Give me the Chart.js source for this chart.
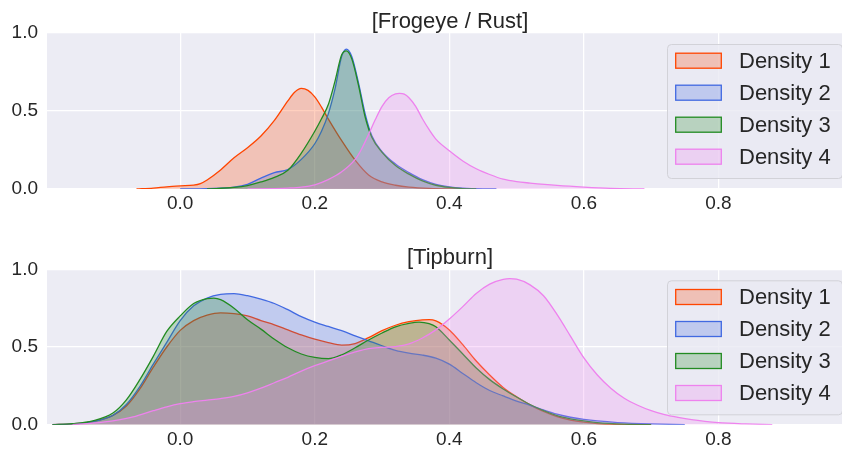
<!DOCTYPE html>
<html>
<head>
<meta charset="utf-8">
<script src="https://cdn.jsdelivr.net/npm/chart.js@4/dist/chart.umd.min.js"></script>
<style>
html,body{margin:0;padding:0;background:#ffffff;overflow:hidden;width:842px;height:452px;}
.wrap{position:absolute;left:0;width:900px;height:226px;}
</style>
</head>
<body>
<div class="wrap" style="top:0px"><canvas id="c1" width="900" height="226"></canvas></div>
<div class="wrap" style="top:226px"><canvas id="c2" width="900" height="226"></canvas></div>
<script>
// ---- data ----
const titles = ['[Frogeye / Rust]', '[Tipburn]'];
const seriesLabels = ['Density 1', 'Density 2', 'Density 3', 'Density 4'];
const xTicks = [0.0, 0.2, 0.4, 0.6, 0.8];
const yTicks = [0.0, 0.5, 1.0];

// Frogeye / Rust
const fr1X = [-0.065,-0.04,-0.02,0,0.02,0.03,0.04,0.06,0.08,0.10,0.12,0.14,0.16,0.17,0.18,0.19,0.20,0.21,0.22,0.24,0.26,0.28,0.30,0.32,0.34,0.37,0.42];
const fr1Y = [0,0.006,0.014,0.02,0.025,0.035,0.058,0.122,0.2,0.265,0.34,0.44,0.565,0.62,0.645,0.632,0.59,0.525,0.45,0.31,0.185,0.09,0.045,0.024,0.012,0.004,0];
const fr2X = [0,0.04,0.08,0.10,0.12,0.14,0.16,0.18,0.20,0.21,0.22,0.23,0.24,0.247,0.255,0.265,0.275,0.285,0.30,0.32,0.34,0.36,0.38,0.40,0.42,0.45,0.47];
const fr2Y = [0,0.003,0.012,0.03,0.07,0.105,0.125,0.19,0.29,0.37,0.48,0.64,0.85,0.897,0.85,0.68,0.48,0.34,0.24,0.16,0.105,0.06,0.03,0.014,0.006,0.001,0];
const fr3X = [0.04,0.08,0.10,0.12,0.14,0.16,0.18,0.20,0.21,0.22,0.23,0.24,0.247,0.255,0.265,0.275,0.285,0.30,0.32,0.34,0.36,0.38,0.40,0.42,0.44];
const fr3Y = [0,0.01,0.022,0.045,0.075,0.12,0.23,0.37,0.45,0.54,0.69,0.86,0.886,0.835,0.665,0.46,0.33,0.235,0.15,0.095,0.052,0.024,0.01,0.003,0];
const fr4X = [0.10,0.14,0.16,0.18,0.20,0.22,0.24,0.26,0.27,0.28,0.29,0.30,0.31,0.32,0.326,0.333,0.34,0.35,0.36,0.37,0.38,0.40,0.42,0.44,0.46,0.48,0.50,0.52,0.56,0.60,0.64,0.69];
const fr4Y = [0,0.003,0.006,0.012,0.027,0.06,0.11,0.19,0.26,0.35,0.445,0.53,0.585,0.61,0.613,0.608,0.585,0.53,0.45,0.38,0.32,0.245,0.18,0.13,0.093,0.063,0.047,0.038,0.023,0.012,0.004,0];

// Tipburn
const tb1X = [-0.19,-0.16,-0.13,-0.10,-0.08,-0.06,-0.04,-0.02,0,0.02,0.04,0.06,0.08,0.10,0.12,0.14,0.16,0.18,0.20,0.22,0.24,0.26,0.28,0.30,0.32,0.34,0.36,0.37,0.38,0.40,0.42,0.44,0.46,0.48,0.50,0.52,0.54,0.56,0.58,0.60,0.62,0.66,0.70];
const tb1Y = [0,0.005,0.02,0.06,0.12,0.23,0.37,0.50,0.607,0.67,0.705,0.72,0.715,0.70,0.67,0.643,0.61,0.578,0.55,0.528,0.512,0.522,0.56,0.605,0.64,0.663,0.675,0.676,0.668,0.61,0.515,0.41,0.32,0.24,0.18,0.128,0.085,0.052,0.03,0.016,0.007,0.001,0];
const tb2X = [-0.19,-0.16,-0.13,-0.10,-0.08,-0.06,-0.04,-0.02,0,0.02,0.04,0.06,0.08,0.10,0.12,0.14,0.16,0.18,0.20,0.22,0.24,0.26,0.28,0.30,0.32,0.34,0.36,0.38,0.40,0.42,0.44,0.46,0.48,0.50,0.52,0.54,0.56,0.58,0.60,0.62,0.65,0.70,0.75];
const tb2Y = [0,0.005,0.02,0.06,0.13,0.245,0.39,0.53,0.67,0.765,0.815,0.838,0.843,0.83,0.808,0.78,0.74,0.695,0.66,0.632,0.605,0.572,0.54,0.508,0.478,0.46,0.448,0.428,0.39,0.33,0.27,0.22,0.185,0.152,0.125,0.095,0.068,0.048,0.034,0.024,0.014,0.005,0];
const tb3X = [-0.19,-0.16,-0.13,-0.10,-0.08,-0.06,-0.04,-0.02,0,0.02,0.04,0.05,0.06,0.08,0.10,0.12,0.14,0.16,0.18,0.20,0.22,0.24,0.26,0.28,0.30,0.32,0.34,0.355,0.37,0.38,0.40,0.42,0.44,0.46,0.48,0.50,0.52,0.54,0.56,0.58,0.60,0.62,0.66,0.70];
const tb3Y = [0,0.007,0.025,0.075,0.16,0.29,0.44,0.6,0.70,0.78,0.812,0.815,0.805,0.75,0.675,0.615,0.55,0.495,0.455,0.433,0.425,0.45,0.495,0.545,0.59,0.63,0.652,0.66,0.65,0.63,0.545,0.455,0.365,0.29,0.23,0.178,0.13,0.09,0.058,0.038,0.024,0.014,0.004,0];
const tb4X = [-0.16,-0.13,-0.10,-0.07,-0.04,-0.02,0,0.02,0.04,0.06,0.08,0.10,0.12,0.14,0.16,0.18,0.20,0.22,0.24,0.26,0.28,0.30,0.32,0.34,0.36,0.38,0.40,0.42,0.44,0.46,0.48,0.49,0.50,0.52,0.54,0.56,0.58,0.60,0.62,0.64,0.66,0.68,0.70,0.72,0.74,0.76,0.78,0.80,0.84,0.88];
const tb4Y = [0,0.01,0.025,0.05,0.09,0.115,0.135,0.148,0.158,0.168,0.182,0.205,0.235,0.27,0.305,0.345,0.38,0.41,0.44,0.468,0.49,0.498,0.503,0.52,0.558,0.61,0.68,0.76,0.845,0.905,0.935,0.94,0.937,0.9,0.83,0.71,0.57,0.43,0.32,0.235,0.17,0.125,0.09,0.065,0.047,0.032,0.021,0.013,0.005,0];

// ---- styling ----
const lineColors = ['rgb(255,69,0)', 'rgb(65,105,225)', 'rgb(34,139,34)', 'rgb(238,130,238)'];
const fillColors = ['rgba(255,69,0,0.25)', 'rgba(65,105,225,0.25)', 'rgba(34,139,34,0.25)', 'rgba(238,130,238,0.25)'];
const FONT = "'Liberation Sans', Arial, sans-serif";
const TEXT = '#262626';
const BG = '#ECECF4';

function pts(xs, ys) { return xs.map((x, i) => ({ x: x, y: ys[i] })); }

const bgPlugin = {
  id: 'bgPlugin',
  beforeDraw(chart) {
    const a = chart.chartArea, ctx = chart.ctx;
    ctx.save();
    ctx.fillStyle = BG;
    ctx.fillRect(a.left, a.top, a.right - a.left, a.bottom - a.top);
    ctx.restore();
  }
};

const boxLegend = {
  id: 'boxLegend',
  afterDraw(chart) {
    const a = chart.chartArea, ctx = chart.ctx;
    const bw = 175, bh = 134;
    const bx = a.right - 11 - bw, by = a.top + 11;
    ctx.save();
    ctx.beginPath();
    ctx.roundRect(bx + 0.5, by + 0.5, bw, bh, 4);
    ctx.fillStyle = 'rgba(234,234,242,0.8)';
    ctx.fill();
    ctx.lineWidth = 1;
    ctx.strokeStyle = '#D2D2D8';
    ctx.stroke();
    const dsets = chart.data.datasets;
    ctx.font = '22px ' + FONT;
    ctx.textBaseline = 'middle';
    ctx.textAlign = 'left';
    for (let i = 0; i < dsets.length; i++) {
      const cy = by + 16.7 + i * 32;
      ctx.fillStyle = dsets[i].backgroundColor;
      ctx.fillRect(bx + 8.7, cy - 7.5, 45.6, 15);
      ctx.lineWidth = 1.3;
      ctx.strokeStyle = dsets[i].borderColor;
      ctx.strokeRect(bx + 8.7, cy - 7.5, 45.6, 15);
      ctx.fillStyle = TEXT;
      ctx.fillText(dsets[i].label, bx + 72, cy + 1);
    }
    ctx.restore();
  }
};

function makeChart(id, title, seriesX, seriesY, titlePadTop, titlePadBottom, xAxisH) {
  const datasets = seriesLabels.map((lab, i) => ({
    label: lab,
    data: pts(seriesX[i], seriesY[i]),
    borderColor: lineColors[i],
    backgroundColor: fillColors[i],
    borderWidth: 1.3,
    pointRadius: 0,
    fill: 'origin',
    cubicInterpolationMode: 'monotone',
    order: 4 - i
  }));
  const gridOpt = { color: '#ffffff', lineWidth: 1.3, drawTicks: false };
  return new Chart(document.getElementById(id), {
    type: 'line',
    data: { datasets: datasets },
    options: {
      responsive: false,
      animation: false,
      devicePixelRatio: 1,
      layout: { padding: 0 },
      plugins: {
        legend: { display: false },
        tooltip: { enabled: false },
        title: {
          display: true, text: title, color: TEXT,
          font: { family: FONT, size: 22, weight: 'normal', lineHeight: 1 },
          padding: { top: titlePadTop, bottom: titlePadBottom }
        }
      },
      scales: {
        x: {
          type: 'linear', min: -0.198, max: 1.0,
          grid: gridOpt, border: { display: false },
          afterBuildTicks: s => { s.ticks = xTicks.map(v => ({ value: v })); },
          afterFit: s => { s.height = xAxisH; },
          ticks: { color: TEXT, font: { family: FONT, size: 19 }, padding: 3.5,
                   maxRotation: 0, callback: v => Number(v).toFixed(1) }
        },
        y: {
          type: 'linear', min: 0, max: 1.0,
          grid: gridOpt, border: { display: false },
          afterBuildTicks: s => { s.ticks = yTicks.map(v => ({ value: v })); },
          afterFit: s => { s.width = 47; },
          ticks: { color: TEXT, font: { family: FONT, size: 19 }, padding: 9,
                   callback: v => Number(v).toFixed(1) }
        },
        yRight: {
          type: 'linear', position: 'right', min: 0, max: 1,
          grid: { display: false }, border: { display: false },
          ticks: { display: false },
          afterFit: s => { s.width = 47; }
        }
      }
    },
    plugins: [bgPlugin, boxLegend]
  });
}

makeChart('c1', titles[0], [fr1X, fr2X, fr3X, fr4X], [fr1Y, fr2Y, fr3Y, fr4Y], 11, 0, 37);
makeChart('c2', titles[1], [tb1X, tb2X, tb3X, tb4X], [tb1Y, tb2Y, tb3Y, tb4Y], 21, 0.3, 27.3);
</script>
</body>
</html>
